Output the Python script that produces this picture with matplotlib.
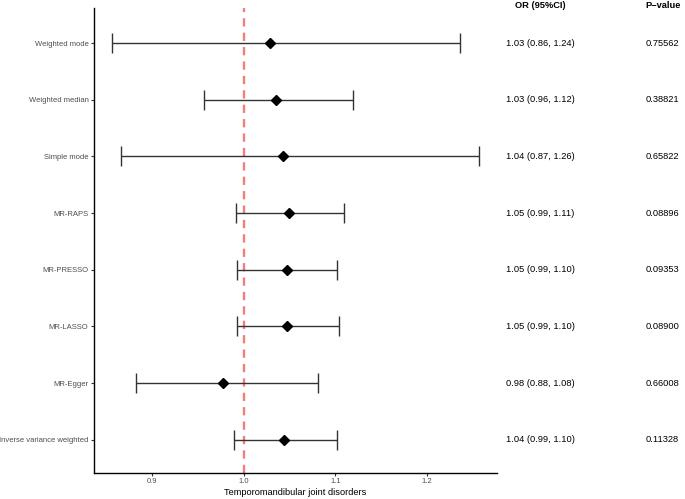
import numpy as np
import matplotlib
matplotlib.use("Agg")
import matplotlib.pyplot as plt
import matplotlib.transforms as mtransforms

plt.rcParams['font.family'] = ['Liberation Sans', 'DejaVu Sans']

# Methods from bottom to top
methods = ["Inverse variance weighted", "MR-Egger", "MR-LASSO", "MR-PRESSO",
           "MR-RAPS", "Simple mode", "Weighted median", "Weighted mode"]
or_est = [1.044, 0.977, 1.047, 1.047, 1.049, 1.043, 1.035, 1.029]
ci_low = [0.990, 0.883, 0.993, 0.993, 0.992, 0.866, 0.957, 0.857]
ci_high = [1.102, 1.081, 1.1035, 1.102, 1.109, 1.256, 1.119, 1.236]
or_text = ["1.04 (0.99, 1.10)", "0.98 (0.88, 1.08)", "1.05 (0.99, 1.10)",
           "1.05 (0.99, 1.10)", "1.05 (0.99, 1.11)", "1.04 (0.87, 1.26)",
           "1.03 (0.96, 1.12)", "1.03 (0.86, 1.24)"]
p_text = ["0.11328", "0.66008", "0.08900", "0.09353", "0.08896", "0.65822",
          "0.38821", "0.75562"]
x_ticks = [0.9, 1.0, 1.1, 1.2]

fig = plt.figure(figsize=(6.85, 4.99), dpi=100)
ax = fig.add_axes([94 / 685, 26.3 / 499, 403 / 685, 464.7 / 499])

y = np.arange(1, len(methods) + 1)
est = np.array(or_est)
lo = est - np.array(ci_low)
hi = np.array(ci_high) - est

# reference line at OR = 1
ax.axvline(1.0, color='#F47C7C', lw=1.7, ls=(0, (3.5, 2.6)), zorder=1)
ax.errorbar(est, y, xerr=[lo, hi], fmt='none', ecolor='#333333',
            elinewidth=1.0, capsize=7, capthick=1.0, zorder=2)
ax.plot(est, y, 'D', color='black', ms=5.2, zorder=3)

ax.set_xlim(0.837, 1.276)
ax.set_ylim(0.42, 8.62)
ax.set_yticks(y)
ax.set_yticklabels(methods)
ax.set_xticks(x_ticks)
ax.set_xticklabels([f"{t:.1f}" for t in x_ticks])
ax.tick_params(axis='both', labelsize=5.5, labelcolor='#4D4D4D',
               color='#333333', length=2.5, width=0.8, pad=1.5)
ax.set_xlabel("Temporomandibular joint disorders", fontsize=6.7, labelpad=2)

for s in ['top', 'right']:
    ax.spines[s].set_visible(False)
for s in ['left', 'bottom']:
    ax.spines[s].set_linewidth(1.0)
    ax.spines[s].set_color('black')

# text columns on the right
trans = mtransforms.blended_transform_factory(fig.transFigure, ax.transData)
for yi, ot, pt in zip(y, or_text, p_text):
    ax.text(540 / 685, yi, ot, transform=trans, ha='center', va='center',
            fontsize=6.7)
    ax.text(646 / 685, yi, pt, transform=trans, ha='left', va='center',
            fontsize=6.7)

fig.text(540 / 685, 1 - 6 / 499, "OR (95%CI)", ha='center', va='center',
         fontsize=6.7, fontweight='bold')
fig.text(645 / 685, 1 - 6 / 499, "P\u2212value", ha='left', va='center',
         fontsize=6.7, fontweight='bold')

fig.savefig("out.png", dpi=100)
